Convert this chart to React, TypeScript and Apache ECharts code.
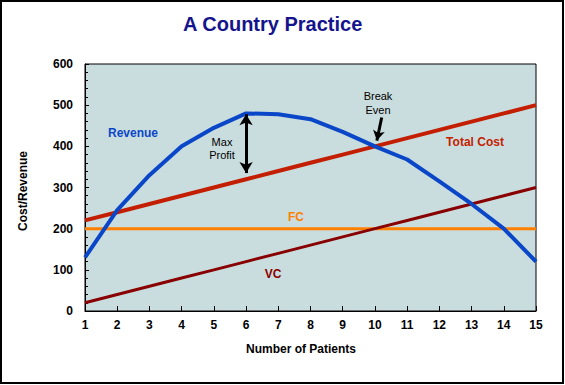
import React, { useEffect, useRef } from "react";
import * as echarts from "echarts";

const patients = [1, 2, 3, 4, 5, 6, 7, 8, 9, 10, 11, 12, 13, 14, 15];
const revenue = [130, 245, 330, 400, 445, 480, 478, 466, 435, 400, 368, 315, 260, 200, 120];
const totalCost = [220, 240, 260, 280, 300, 320, 340, 360, 380, 400, 420, 440, 460, 480, 500];
const fixedCost = [200, 200, 200, 200, 200, 200, 200, 200, 200, 200, 200, 200, 200, 200, 200];
const variableCost = [20, 40, 60, 80, 100, 120, 140, 160, 180, 200, 220, 240, 260, 280, 300];

const FONT = "'Liberation Sans', Arial, sans-serif";
const C_REV = "#0A46C8";
const C_TC = "#C41E00";
const C_VC = "#880000";
const C_FC = "#FF8000";

const pairs = (vals: number[]) => patients.map((p, i) => [p, vals[i]]);

export default function App() {
  const ref = useRef<HTMLDivElement>(null);
  useEffect(() => {
    document.body.style.margin = "0";
    if (!ref.current) return;
    const chart = echarts.init(ref.current, null, { renderer: "svg" });
    const bold12 = { fontFamily: FONT, fontSize: 12, fontWeight: "bold" as const };
    chart.setOption({
      animation: false,
      backgroundColor: "#FFFFFF",
      title: {
        text: "A Country Practice",
        left: 183,
        top: 14,
        padding: 0,
        textStyle: { fontFamily: FONT, fontSize: 20, fontWeight: "bold", color: "#14148C" },
      },
      grid: {
        left: 85,
        top: 64,
        right: 29,
        bottom: 74,
        show: true,
        backgroundColor: "#CADDDE",
        borderColor: "#000",
        borderWidth: 1,
      },
      xAxis: {
        type: "value",
        min: 1,
        max: 15,
        interval: 1,
        name: "Number of Patients",
        nameLocation: "middle",
        nameGap: 32,
        nameTextStyle: { ...bold12, color: "#000", padding: [0, 19, 0, 0] },
        axisLine: { lineStyle: { color: "#000", width: 1 } },
        axisTick: { inside: true, length: 5, lineStyle: { color: "#000" } },
        axisLabel: { ...bold12, color: "#000", margin: 8 },
        splitLine: { show: false },
      },
      yAxis: {
        type: "value",
        min: 0,
        max: 600,
        interval: 100,
        name: "Cost/Revenue",
        nameLocation: "middle",
        nameGap: 56,
        nameTextStyle: { ...bold12, color: "#000", padding: [0, 7, 0, 0] },
        axisLine: { lineStyle: { color: "#000", width: 1 } },
        axisTick: { inside: true, length: 4, lineStyle: { color: "#000" } },
        minorTick: { show: true, splitNumber: 5, length: 3, lineStyle: { color: "#000" } },
        axisLabel: { ...bold12, color: "#000", margin: 12 },
        splitLine: { show: false },
      },
      series: [
        {
          name: "Total Cost",
          type: "line",
          data: pairs(totalCost),
          symbol: "none",
          lineStyle: { color: C_TC, width: 4 },
        },
        {
          name: "FC",
          type: "line",
          data: pairs(fixedCost),
          symbol: "none",
          lineStyle: { color: C_FC, width: 3 },
        },
        {
          name: "VC",
          type: "line",
          data: pairs(variableCost),
          symbol: "none",
          lineStyle: { color: C_VC, width: 3 },
        },
        {
          name: "Revenue",
          type: "line",
          data: pairs(revenue),
          symbol: "none",
          lineStyle: { color: C_REV, width: 4 },
          markLine: {
            silent: true,
            label: { show: false },
            lineStyle: { color: "#000", width: 3, type: "solid" },
            data: [
              [
                { coord: [6, 478], symbol: "arrow", symbolSize: [10, 11] },
                { coord: [6, 335], symbol: "arrow", symbolSize: [10, 11] },
              ],
              [
                { coord: [10.21, 470], symbol: "none" },
                { coord: [10.06, 414], symbol: "arrow", symbolSize: [9, 10] },
              ],
            ],
          },
        },
      ],
      graphic: [
        {
          type: "rect",
          shape: { x: 1, y: 1, width: 562, height: 382 },
          style: { fill: "none", stroke: "#000", lineWidth: 2 },
          silent: true,
        },
        {
          type: "text",
          x: 133,
          y: 133,
          style: { text: "Revenue", ...bold12, fill: C_REV, align: "center", verticalAlign: "middle" },
        },
        {
          type: "text",
          x: 222,
          y: 148,
          style: {
            text: "Max\nProfit",
            fontFamily: FONT,
            fontSize: 11,
            lineHeight: 13,
            fill: "#000",
            align: "center",
            verticalAlign: "middle",
          },
        },
        {
          type: "text",
          x: 378,
          y: 103,
          style: {
            text: "Break\nEven",
            fontFamily: FONT,
            fontSize: 11,
            lineHeight: 14,
            fill: "#000",
            align: "center",
            verticalAlign: "middle",
          },
        },
        {
          type: "text",
          x: 475,
          y: 142,
          style: { text: "Total Cost", ...bold12, fill: C_TC, align: "center", verticalAlign: "middle" },
        },
        {
          type: "text",
          x: 296,
          y: 217,
          style: { text: "FC", ...bold12, fill: C_FC, align: "center", verticalAlign: "middle" },
        },
        {
          type: "text",
          x: 273,
          y: 274,
          style: { text: "VC", ...bold12, fill: C_VC, align: "center", verticalAlign: "middle" },
        },
      ],
    });
    return () => chart.dispose();
  }, []);
  return <div ref={ref} style={{ width: 565, height: 385 }} />;
}
